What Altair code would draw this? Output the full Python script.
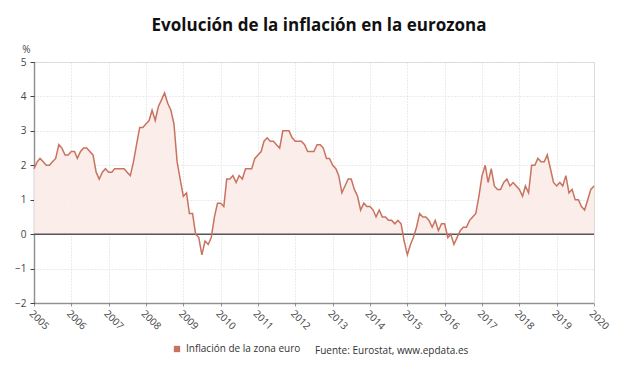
import altair as alt
import pandas as pd

# Monthly euro-area inflation (%), Jan 2005 - Jan 2020
y2005 = [1.9, 2.1, 2.2, 2.1, 2.0, 2.0, 2.1, 2.2, 2.6, 2.5, 2.3, 2.3]
y2006 = [2.4, 2.4, 2.2, 2.4, 2.5, 2.5, 2.4, 2.3, 1.8, 1.6, 1.8, 1.9]
y2007 = [1.8, 1.8, 1.9, 1.9, 1.9, 1.9, 1.8, 1.7, 2.1, 2.6, 3.1, 3.1]
y2008 = [3.2, 3.3, 3.6, 3.3, 3.7, 3.9, 4.1, 3.8, 3.6, 3.2, 2.1, 1.6]
y2009 = [1.1, 1.2, 0.6, 0.6, 0.0, -0.1, -0.6, -0.2, -0.3, -0.1, 0.5, 0.9]
y2010 = [0.9, 0.8, 1.6, 1.6, 1.7, 1.5, 1.7, 1.6, 1.9, 1.9, 1.9, 2.2]
y2011 = [2.3, 2.4, 2.7, 2.8, 2.7, 2.7, 2.6, 2.5, 3.0, 3.0, 3.0, 2.8]
y2012 = [2.7, 2.7, 2.7, 2.6, 2.4, 2.4, 2.4, 2.6, 2.6, 2.5, 2.2, 2.2]
y2013 = [2.0, 1.9, 1.7, 1.2, 1.4, 1.6, 1.6, 1.3, 1.1, 0.7, 0.9, 0.8]
y2014 = [0.8, 0.7, 0.5, 0.7, 0.5, 0.5, 0.4, 0.4, 0.3, 0.4, 0.3, -0.2]
y2015 = [-0.6, -0.3, -0.1, 0.2, 0.6, 0.5, 0.5, 0.4, 0.2, 0.4, 0.1, 0.3]
y2016 = [0.3, -0.1, 0.0, -0.3, -0.1, 0.1, 0.2, 0.2, 0.4, 0.5, 0.6, 1.1]
y2017 = [1.7, 2.0, 1.5, 1.9, 1.4, 1.3, 1.3, 1.5, 1.6, 1.4, 1.5, 1.4]
y2018 = [1.3, 1.1, 1.4, 1.2, 2.0, 2.0, 2.2, 2.1, 2.1, 2.3, 1.9, 1.5]
y2019 = [1.4, 1.5, 1.4, 1.7, 1.2, 1.3, 1.0, 1.0, 0.8, 0.7, 1.0, 1.3]
y2020 = [1.4]

values = (y2005 + y2006 + y2007 + y2008 + y2009 + y2010 + y2011 + y2012 +
          y2013 + y2014 + y2015 + y2016 + y2017 + y2018 + y2019 + y2020)
dates = pd.date_range("2005-01-01", periods=len(values), freq="MS").strftime("%Y-%m-%d").tolist()
years = list(range(2005, 2021))
yticks = [-2, -1, 0, 1, 2, 3, 4, 5]

series_name = "Inflación de la zona euro"
source_text = "Fuente: Eurostat, www.epdata.es"

df = pd.DataFrame({"date": dates, "v": values, "serie": series_name})

LINE = "#c8735f"
FILL = "#fbebe7"
FONT = "Open Sans"

xscale = alt.Scale(type="utc",
                   domain=[alt.DateTime(year=2005, month=1, date=1, utc=True),
                           alt.DateTime(year=2020, month=1, date=1, utc=True)])
yscale = alt.Scale(domain=[-2, 5], nice=False)

def make_xaxis():
    return alt.Axis(
        values=[alt.DateTime(year=y, month=1, date=1, utc=True) for y in years],
        format="%Y", labelAngle=45, labelAlign="left", labelBaseline="top",
        labelFont=FONT, labelFontSize=10, labelColor="#444", labelPadding=2,
        labelOverlap=False, labelFlush=False, labelBound=False,
        domainColor="#444", domainWidth=1.5, domainDash=[1, 1],
        tickColor="#999", tickSize=3,
        grid=True, gridColor="#d6d6d6", gridDash=[1, 2], title=None,
    )

def make_yaxis():
    return alt.Axis(
        values=yticks, labelOverlap=False,
        labelFont=FONT, labelFontSize=10, labelColor="#444", labelPadding=4,
        domainColor="#444", domainWidth=1.5, domainDash=[1, 1],
        tickColor="#444", tickSize=4,
        grid=True, gridColor="#d6d6d6", gridDash=[1, 2],
        title="%", titleAngle=0, titleFont=FONT, titleFontSize=10, titleFontWeight="normal",
        titleColor="#444", titleX=-8, titleY=-8, titleAlign="center", titleBaseline="bottom",
    )

base = alt.Chart(df)

area = base.transform_calculate(pos="max(datum.v, 0)").mark_area(
    color=FILL, opacity=0.9
).encode(
    x=alt.X("date:T", scale=xscale, axis=make_xaxis()),
    y=alt.Y("pos:Q", scale=yscale, axis=make_yaxis()),
    y2=alt.datum(0),
)

zero = alt.Chart(pd.DataFrame({"z": [0]})).mark_rule(color="#555", strokeWidth=1.5).encode(
    y=alt.Y("z:Q", scale=yscale, axis=make_yaxis())
)

line = base.mark_line(strokeWidth=1.5).encode(
    x=alt.X("date:T", scale=xscale, axis=make_xaxis()),
    y=alt.Y("v:Q", scale=yscale, axis=make_yaxis()),
    color=alt.Color("serie:N", scale=alt.Scale(range=[LINE]),
                    legend=alt.Legend(orient="none", legendX=138, legendY=282, title=None,
                                      symbolType="square", symbolSize=40,
                                      symbolFillColor=LINE, symbolStrokeColor=LINE,
                                      symbolStrokeWidth=0, labelOffset=4,
                                      labelFont=FONT, labelFontSize=10, labelColor="#333")),
)

src = alt.Chart(pd.DataFrame({"t": [source_text]})).mark_text(
    align="left", baseline="middle", font=FONT, fontSize=10, color="#333"
).encode(x=alt.value(281), y=alt.value(289), text="t:N")

chart = alt.layer(area, zero, line, src).properties(
    width=560, height=241,
    title=alt.TitleParams("Evolución de la inflación en la eurozona", font=FONT, fontSize=17,
                          fontWeight="bold", color="#111", anchor="middle", offset=9, dx=5),
    autosize=alt.AutoSizeParams(type="none"),
    padding={"left": 34, "top": 62, "right": 46, "bottom": 73},
).configure_view(strokeWidth=0).configure(background="white")

chart.save("out.html", embed_options={"renderer": "svg", "actions": False})
